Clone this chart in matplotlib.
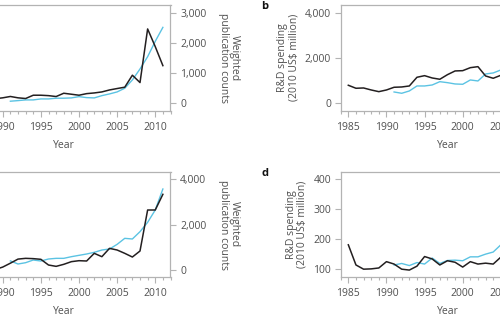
import matplotlib
matplotlib.use("Agg")
import matplotlib.pyplot as plt
from matplotlib.ticker import MultipleLocator, FuncFormatter

plt.rcParams['font.family'] = ['Open Sans', 'DejaVu Sans']

# ---- data ----
years_a_black = list(range(1989, 2012))
a_black = [150, 180, 225, 180, 157, 267, 267, 253, 223, 333, 300, 267, 320,
           343, 377, 443, 490, 535, 935, 690, 2480, 1890, 1255]
years_a_cyan = list(range(1991, 2012))
a_cyan = [67, 87, 110, 110, 143, 143, 167, 167, 177, 220, 187, 177, 253, 310,
          377, 500, 777, 1143, 1553, 2067, 2533]

years_b_black = list(range(1985, 2007))
b_black = [800, 667, 680, 591, 516, 591, 711, 724, 769, 1155, 1227, 1124, 1067,
           1271, 1436, 1449, 1582, 1627, 1213, 1111, 1244, 1300]
years_b_cyan = list(range(1991, 2007))
b_cyan = [502, 444, 547, 769, 769, 813, 960, 916, 858, 844, 1036, 991, 1302,
          1347, 1480, 1600]

years_c_black = list(range(1989, 2012))
c_black = [20, 130, 300, 480, 513, 500, 470, 220, 161, 250, 367, 410, 396, 733,
           586, 952, 879, 733, 571, 835, 2637, 2637, 3326]
years_c_cyan = list(range(1991, 2012))
c_cyan = [400, 264, 322, 440, 396, 484, 513, 513, 586, 645, 704, 777, 879, 923,
          1128, 1392, 1363, 1685, 2095, 2637, 3560]

years_d_black = list(range(1985, 2007))
d_black = [181, 114, 100, 101, 104, 125, 117, 100, 97, 110, 142, 134, 114, 128,
           123, 107, 125, 117, 120, 117, 140, 145]
years_d_cyan = list(range(1991, 2007))
d_cyan = [114, 119, 112, 122, 117, 137, 119, 129, 130, 128, 141, 141, 150, 157,
          181, 200]

BLACK = '#231f20'
CYAN = '#5bc3e3'
SPINE = '#b3b3b3'
TXT = '#505050'

W, H = 500, 319
fig = plt.figure(figsize=(5.0, 3.19), dpi=100)

def pos(left_px, right_px, top_px, bottom_px):
    return [left_px / W, 1 - bottom_px / H, (right_px - left_px) / W, (bottom_px - top_px) / H]

AXW = 213.5
ax_a = fig.add_axes(pos(170.5 - AXW, 170.5, 4.7, 110.7))
ax_b = fig.add_axes(pos(340.7, 340.7 + AXW, 4.7, 110.7))
ax_c = fig.add_axes(pos(170.5 - AXW, 170.5, 171.7, 277.3))
ax_d = fig.add_axes(pos(340.7, 340.7 + AXW, 171.7, 277.3))

fmt = FuncFormatter(lambda v, p: f"{int(v):,}")

def style(ax, right=False):
    ax.set_xlim(1984, 2012)
    for s in ax.spines.values():
        s.set_color(SPINE)
        s.set_linewidth(0.9)
    ax.xaxis.set_major_locator(MultipleLocator(5))
    ax.xaxis.set_minor_locator(MultipleLocator(1))
    ax.set_xticks(range(1985, 2015, 5))
    ax.tick_params(axis='both', which='major', direction='out', length=4,
                   width=0.8, color=SPINE, labelcolor=TXT, labelsize=7.5, pad=3)
    ax.tick_params(axis='x', which='minor', direction='out', length=2.5,
                   width=0.8, color=SPINE)
    ax.tick_params(axis='x', which='major', pad=4)
    ax.set_xlabel('Year', color=TXT, fontsize=7.5, labelpad=5)
    ax.yaxis.set_major_formatter(fmt)
    if right:
        ax.yaxis.tick_right()
        ax.yaxis.set_label_position('right')
        ax.set_ylabel('Weighted\npublication counts', rotation=270, color=TXT,
                      fontsize=7.5, labelpad=24, linespacing=1.0)
    else:
        ax.set_ylabel('R&D spending\n(2010 US\\$ million)', color=TXT,
                      fontsize=7.5, labelpad=4, linespacing=1.0)

ax_a.plot(years_a_cyan, a_cyan, color=CYAN, lw=1.0)
ax_a.plot(years_a_black, a_black, color=BLACK, lw=1.1)
ax_a.set_ylim(-250, 3290)
ax_a.set_yticks([0, 1000, 2000, 3000])
style(ax_a, right=True)

ax_b.plot(years_b_cyan, b_cyan, color=CYAN, lw=1.0)
ax_b.plot(years_b_black, b_black, color=BLACK, lw=1.1)
ax_b.set_ylim(-330, 4380)
ax_b.set_yticks([0, 2000, 4000])
style(ax_b)

ax_c.plot(years_c_cyan, c_cyan, color=CYAN, lw=1.0)
ax_c.plot(years_c_black, c_black, color=BLACK, lw=1.1)
ax_c.set_ylim(-320, 4320)
ax_c.set_yticks([0, 2000, 4000])
style(ax_c, right=True)

ax_d.plot(years_d_cyan, d_cyan, color=CYAN, lw=1.0)
ax_d.plot(years_d_black, d_black, color=BLACK, lw=1.1)
ax_d.set_ylim(73, 424)
ax_d.set_yticks([100, 200, 300, 400])
style(ax_d)

fig.text(265 / W, 1 - 6.7 / H, 'b', fontsize=8, fontweight='bold', ha='center', va='center', color='#111')
fig.text(265 / W, 1 - 173.3 / H, 'd', fontsize=8, fontweight='bold', ha='center', va='center', color='#111')

fig.savefig('out.png', dpi=100)
